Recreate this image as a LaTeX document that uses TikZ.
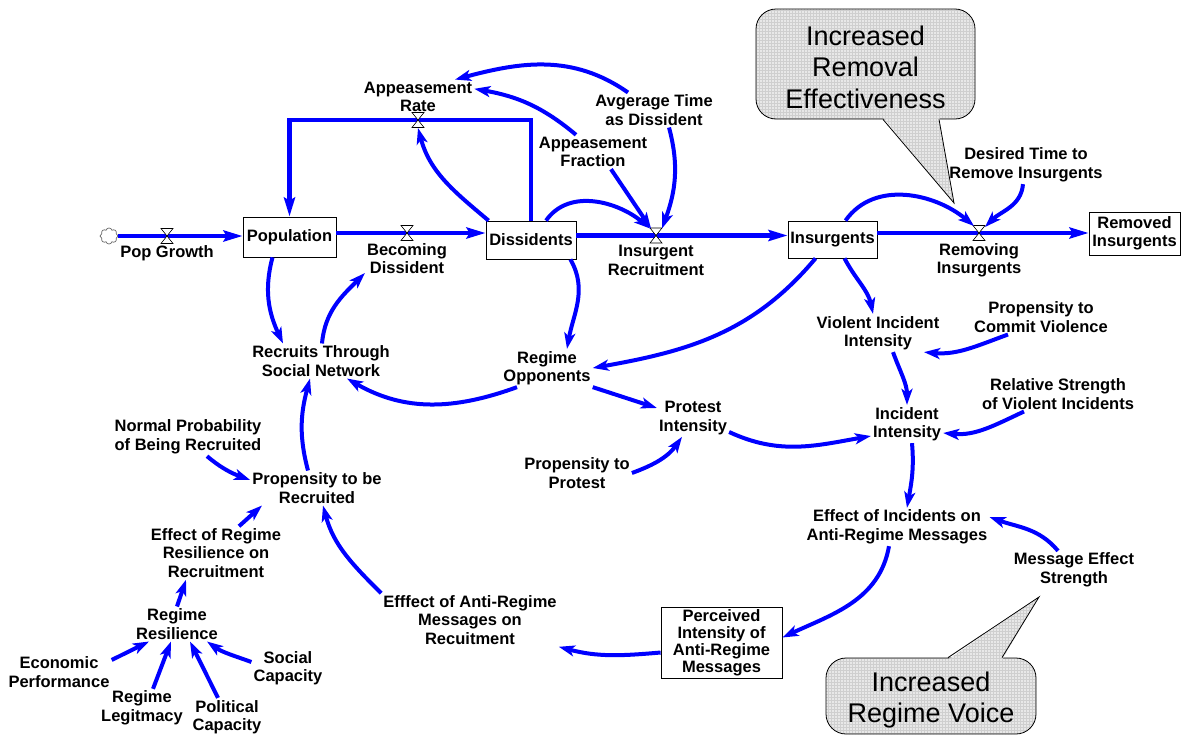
\documentclass[tikz,border=0pt]{standalone}
\usepackage{fontspec}
\setmainfont{Liberation Sans}
\usetikzlibrary{arrows.meta, shapes.symbols, patterns, positioning}
\definecolor{vblue}{RGB}{0,0,255}
\tikzset{
  stock/.style={
    rectangle, draw=black, line width=0.8pt, fill=white,
    align=center, inner sep=2pt,
    font=\bfseries\fontsize{16.5}{18.5}\selectfont
  },
  auxvar/.style={
    rectangle, align=center, inner sep=2pt,
    font=\bfseries\fontsize{16.5}{18.5}\selectfont
  },
  cloudy/.style={
    cloud, cloud puffs=8, aspect=1.1, draw=gray!80!black, line width=0.7pt, fill=white,
    inner sep=0pt, minimum width=18pt, minimum height=16pt
  },
  callfill/.style={
    preaction={fill=gray!18}, pattern=grid, pattern color=gray!38
  },
  callbox/.style={
    rectangle, rounded corners=20pt, draw=black, line width=0.8pt, callfill,
    align=center, inner sep=0pt,
    font=\fontsize{27}{31.5}\selectfont
  },
  flow/.style={
    -{Stealth[length=19pt,width=11pt,inset=3pt]}, line width=4.5pt, draw=vblue, line join=miter
  },
  link/.style={
    -{Stealth[length=16pt,width=11pt,inset=4pt]}, line width=4pt, draw=vblue
  },
  valve/.pic={
    \draw[black, line width=0.6pt, fill=white] (-6,-7.5) -- (6,-7.5) -- (-6,7.5) -- (6,7.5) -- cycle;
  }
}
\begin{document}
\begin{tikzpicture}[x=1pt, y=1pt]
\useasboundingbox (0,0) rectangle (1182,-736);

\node[callbox, minimum width=219pt, minimum height=110pt] (remcall) at (865.5,-64) {\rule{0pt}{26pt}Increased\\Removal\\Effectiveness};
\coordinate (remtip) at (954,-203);
\path[callfill] ([xshift=17.5pt,yshift=2pt]remcall.south) -- (remtip) -- ([xshift=73.5pt,yshift=2pt]remcall.south) -- cycle;
\draw[line width=0.8pt] ([xshift=17.5pt]remcall.south) -- (remtip) -- ([xshift=73.5pt]remcall.south);

\node[callbox, minimum width=210pt, minimum height=76pt] (voicall) at (931,-696) {\rule{0pt}{28pt}Increased\\Regime Voice};
\coordinate (voitip) at (1039,-597);
\path[callfill] ([xshift=17pt,yshift=-2pt]voicall.north) -- (voitip) -- ([xshift=71pt,yshift=-2pt]voicall.north) -- cycle;
\draw[line width=0.8pt] ([xshift=17pt]voicall.north) -- (voitip) -- ([xshift=71pt]voicall.north);

\node[stock, minimum width=93pt, minimum height=40pt] (pop) at (289.5,-237) {Population};
\node[stock, minimum width=90pt, minimum height=38pt] (dis) at (531,-240) {Dissidents};
\node[stock, minimum width=89pt, minimum height=37pt] (ins) at (832.5,-239.5) {Insurgents};
\node[stock, minimum width=91pt, minimum height=43pt] (rem) at (1134.5,-233.5) {Removed\\Insurgents};
\node[cloudy] (src) at (109,-236) {};

\coordinate (vpg) at (167,-236);
\coordinate (vbd) at (407,-233);
\coordinate (vir) at (656,-235.5);
\coordinate (vri) at (979,-233);
\coordinate (var) at (418,-120);

\draw[flow] (src.east) -- (src.east -| pop.west);
\draw[flow] (pop.east |- vbd) -- (dis.west |- vbd);
\draw[flow] (dis.east |- vir) -- (ins.west |- vir);
\draw[flow] (ins.east |- vri) -- (rem.west |- vri);
\draw[flow] (dis.north) |- (var) -| (pop.north);
\foreach \v in {vpg,vbd,vir,vri,var}
  \pic at (\v) {valve};

\node[auxvar, below=7pt of vpg] (pgl) {Pop Growth};
\node[auxvar, below=8pt of vbd] (bdl) {Becoming\\Dissident};
\node[auxvar, below=7.5pt of vir] (irl) {Insurgent\\Recruitment};
\node[auxvar, below=8pt of vri] (ril) {Removing\\Insurgents};
\node[auxvar, above=6pt of var] (arl) {Appeasement\\Rate};

\node[auxvar] (aft) at (593,-152) {Appeasement\\Fraction};
\node[auxvar] (avg) at (654,-110) {Avgerage Time\\as Dissident};
\node[auxvar] (dti) at (1026,-165) {Desired Time to\\Remove Insurgents};
\node[auxvar] (rtsn) at (321,-361) {Recruits Through\\Social Network};
\node[auxvar] (ro) at (547,-368) {Regime\\Opponents};
\node[auxvar] (pi) at (693,-418) {Protest\\Intensity};
\node[auxvar] (ptp) at (577,-473) {Propensity to\\Protest};
\node[auxvar] (vii) at (878,-333) {Violent Incident\\Intensity};
\node[auxvar] (pcv) at (1041,-317) {Propensity to\\Commit Violence};
\node[auxvar] (ii) at (907,-424) {Incident\\Intensity};
\node[auxvar] (rsv) at (1058,-394) {Relative Strength\\of Violent Incidents};
\node[auxvar] (eiam) at (897,-527) {Effect of Incidents on\\Anti-Regime Messages};
\node[auxvar] (mes) at (1074,-570) {Message Effect\\Strength};
\node[stock, minimum width=121pt, minimum height=71pt, font=\bfseries\fontsize{16.5}{17}\selectfont] (pia) at (721.5,-642.5) {Perceived\\Intensity of\\Anti-Regime\\Messages};
\node[auxvar] (eamr) at (470,-620) {Efffect of Anti-Regime\\Messages on\\Recuitment};
\node[auxvar] (npr) at (188,-437) {Normal Probability\\of Being Recruited};
\node[auxvar] (ptr) at (317,-488) {Propensity to be\\Recruited};
\node[auxvar] (err) at (216,-553) {Effect of Regime\\Resilience on\\Recruitment};
\node[auxvar] (rr) at (177,-624) {Regime\\Resilience};
\node[auxvar] (ep) at (59,-672) {Economic\\Performance};
\node[auxvar] (rl) at (142,-708) {Regime\\Legitmacy};
\node[auxvar] (pc) at (227,-717) {Political\\Capacity};
\node[auxvar] (sc) at (288,-668) {Social\\Capacity};

\draw[link] ([xshift=3pt]dis.north west) to[out=140,in=-75] ([yshift=-8pt]var);
\draw[link] ([xshift=-17pt]aft.north) to[out=140,in=-10] ([yshift=8pt]arl.east);
\draw[link] ([xshift=-26pt]avg.north) to[out=145,in=15] ([xshift=37pt]arl.north);
\draw[link] ([xshift=18pt]aft.south) -- ([shift={(-5pt,7pt)}]vir);
\draw[link] ([xshift=15pt]avg.south) to[out=-75,in=70] ([shift={(6pt,7pt)}]vir);
\draw[link] ([xshift=15pt]dis.north) to[out=55,in=140] ([shift={(-6pt,7pt)}]vir);
\draw[link] ([xshift=13pt]ins.north) to[out=55,in=140] ([shift={(-5pt,7pt)}]vri);
\draw[link] ([xshift=-3pt]dti.south) to[out=-95,in=45] ([shift={(6pt,6pt)}]vri);

\draw[link] ([xshift=-17pt]pop.south) to[out=255,in=115] ([xshift=-38pt]rtsn.north);
\draw[link] ([xshift=1pt]rtsn.north) to[out=85,in=225] ([yshift=3pt]bdl.south west);
\draw[link] ([xshift=-6pt]dis.south east) to[out=-60,in=80] ([xshift=20pt]ro.north);
\draw[link] ([xshift=-17pt]ins.south) to[out=230,in=10] (ro.east);
\draw[link] ([xshift=12pt]ins.south) to[out=-62,in=102] ([xshift=-5pt]vii.north);
\draw[link] ([xshift=-33pt]pcv.south) to[out=200,in=-5] ([xshift=46pt]vii.south);
\draw[link] ([xshift=15pt]vii.south) to[out=-70,in=90] (ii.north);
\draw[link] ([xshift=-34pt]rsv.south) to[out=205,in=-5] ([yshift=-9pt]ii.east);
\draw[link] ([xshift=-30pt]ro.south) to[out=200,in=-30] ([xshift=26pt]rtsn.south);
\draw[link] (ro.south east) -- ([yshift=10pt]pi.west);
\draw[link] (ptp.east) to[out=20,in=235] ([xshift=-11pt]pi.south);
\draw[link] ([yshift=-14pt]pi.east) to[out=-25,in=190] ([yshift=-12pt]ii.west);
\draw[link] ([xshift=5pt]ii.south) to[out=-85,in=80] ([xshift=10pt]eiam.north);
\draw[link] ([xshift=-16pt]mes.north) to[out=130,in=-20] ([yshift=10pt]eiam.east);
\draw[link] ([xshift=-8pt]eiam.south) to[out=-100,in=25] ([yshift=5pt]pia.east);
\draw[link] ([yshift=-10pt]pia.west) to[out=185,in=-15] (eamr.south east);
\draw[link] (eamr.north west) to[out=135,in=-75] ([xshift=6pt]ptr.south);
\draw[link] ([xshift=-9pt]ptr.north) to[out=105,in=-105] ([xshift=-11pt]rtsn.south);
\draw[link] ([xshift=19pt]npr.south) to[out=-40,in=160] ([yshift=8pt]ptr.west);
\draw[link] ([xshift=23pt]err.north) -- ([xshift=-55pt]ptr.south);
\draw[link] (rr.north) -- ([xshift=-30pt]err.south);
\draw[link] ([yshift=12pt]ep.east) -- ([xshift=-28pt]rr.south);
\draw[link] ([xshift=11pt]rl.north) -- ([xshift=-6pt]rr.south);
\draw[link] ([xshift=-9pt]pc.north) -- ([xshift=13pt]rr.south);
\draw[link] ([yshift=6pt]sc.west) to[out=160,in=-35] ([xshift=30pt]rr.south);
\end{tikzpicture}
\end{document}
